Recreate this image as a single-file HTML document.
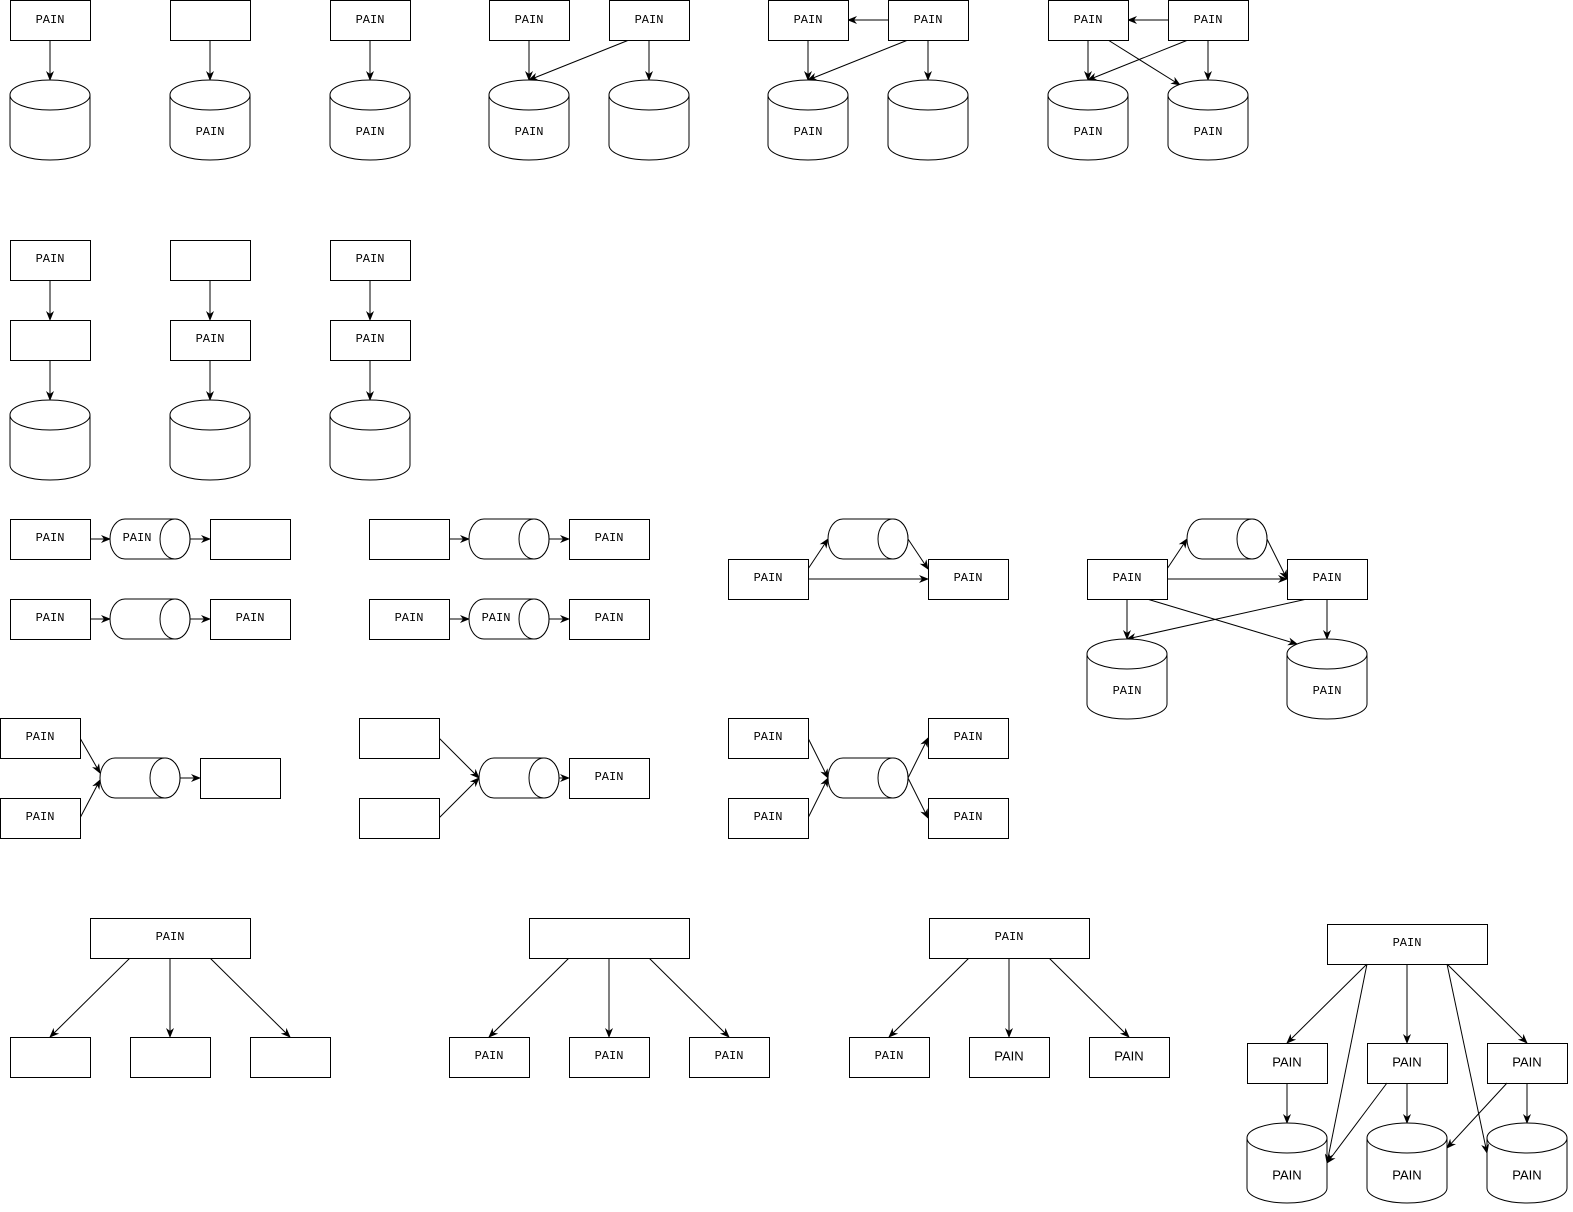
<!DOCTYPE html>
<html><head><meta charset="utf-8"><style>
body{margin:0;background:#fff}
svg text{font-family:"Liberation Mono",monospace;font-size:12px;text-anchor:middle;dominant-baseline:central}
svg text.s{font-family:"Liberation Sans",sans-serif;font-size:13px}
svg line{stroke:#000;marker-end:url(#a)}
</style></head><body>
<svg width="1573" height="1207" viewBox="0 0 1573 1207" xmlns="http://www.w3.org/2000/svg">
<defs><marker id="a" markerWidth="10" markerHeight="8" refX="9" refY="4" orient="auto" markerUnits="userSpaceOnUse"><path d="M0,0 L10,4 L0,8 L3,4 Z" fill="#000"/></marker>
<symbol id="cy" overflow="visible"><path d="M0 15 A40 15 0 0 1 80 15 V65 A40 15 0 0 1 0 65 Z M0 15 A40 15 0 0 0 80 15" fill="#fff" stroke="#000"/></symbol>
<symbol id="hc" overflow="visible"><path d="M15 0 H65 A15 20 0 0 1 65 40 H15 A15 20 0 0 1 15 0 Z" fill="#fff" stroke="#000"/><ellipse cx="65" cy="20" rx="15" ry="20" fill="#fff" stroke="#000"/></symbol>
<symbol id="bx" overflow="visible"><rect x="0.5" y="0.5" width="80" height="40" fill="#fff" stroke="#000"/></symbol>
<symbol id="wb" overflow="visible"><rect x="0.5" y="0.5" width="160" height="40" fill="#fff" stroke="#000"/></symbol>
</defs>
<line x1="50" y1="40" x2="50" y2="80"/><line x1="210" y1="40" x2="210" y2="80"/><line x1="370" y1="40" x2="370" y2="80"/>
<line x1="529" y1="40" x2="529" y2="80"/><line x1="649" y1="40" x2="649" y2="80"/><line x1="629" y1="40" x2="529" y2="80"/>
<line x1="808" y1="40" x2="808" y2="80"/><line x1="928" y1="40" x2="928" y2="80"/><line x1="888" y1="20" x2="848" y2="20"/><line x1="908" y1="40" x2="808" y2="80"/>
<line x1="1088" y1="40" x2="1088" y2="80"/><line x1="1208" y1="40" x2="1208" y2="80"/><line x1="1168" y1="20" x2="1128" y2="20"/><line x1="1188" y1="40" x2="1088" y2="80"/><line x1="1108" y1="40" x2="1180" y2="85"/>
<line x1="50" y1="280" x2="50" y2="320"/><line x1="50" y1="360" x2="50" y2="400"/><line x1="210" y1="280" x2="210" y2="320"/><line x1="210" y1="360" x2="210" y2="400"/><line x1="370" y1="280" x2="370" y2="320"/><line x1="370" y1="360" x2="370" y2="400"/>
<line x1="90" y1="539" x2="110" y2="539"/><line x1="190" y1="539" x2="210" y2="539"/><line x1="90" y1="619" x2="110" y2="619"/><line x1="190" y1="619" x2="210" y2="619"/>
<line x1="449" y1="539" x2="469" y2="539"/><line x1="549" y1="539" x2="569" y2="539"/><line x1="449" y1="619" x2="469" y2="619"/><line x1="549" y1="619" x2="569" y2="619"/>
<line x1="808" y1="569" x2="828" y2="539"/><line x1="908" y1="539" x2="928" y2="569"/><line x1="808" y1="579" x2="928" y2="579"/>
<line x1="1167" y1="569" x2="1187" y2="539"/><line x1="1267" y1="539" x2="1287" y2="579"/><line x1="1167" y1="579" x2="1287" y2="579"/><line x1="1127" y1="599" x2="1127" y2="639"/><line x1="1327" y1="599" x2="1327" y2="639"/><line x1="1307" y1="599" x2="1127" y2="639"/><line x1="1147" y1="599" x2="1297" y2="644"/>
<line x1="80" y1="738" x2="100" y2="773"/><line x1="80" y1="818" x2="100" y2="780"/><line x1="180" y1="778" x2="200" y2="778"/>
<line x1="439" y1="738" x2="479" y2="778"/><line x1="439" y1="818" x2="479" y2="778"/><line x1="559" y1="778" x2="569" y2="778"/>
<line x1="808" y1="738" x2="828" y2="778"/><line x1="808" y1="818" x2="828" y2="778"/><line x1="908" y1="778" x2="928" y2="738"/><line x1="908" y1="778" x2="928" y2="818"/>
<line x1="130" y1="958" x2="50" y2="1037"/><line x1="170" y1="958" x2="170" y2="1037"/><line x1="210" y1="958" x2="290" y2="1037"/>
<line x1="569" y1="958" x2="489" y2="1037"/><line x1="609" y1="958" x2="609" y2="1037"/><line x1="649" y1="958" x2="729" y2="1037"/>
<line x1="969" y1="958" x2="889" y2="1037"/><line x1="1009" y1="958" x2="1009" y2="1037"/><line x1="1049" y1="958" x2="1129" y2="1037"/>
<line x1="1367" y1="964" x2="1287" y2="1043"/><line x1="1407" y1="964" x2="1407" y2="1043"/><line x1="1447" y1="964" x2="1527" y2="1043"/>
<line x1="1287" y1="1083" x2="1287" y2="1123"/><line x1="1407" y1="1083" x2="1407" y2="1123"/><line x1="1527" y1="1083" x2="1527" y2="1123"/>
<!-- row1 -->
<use href="#bx" x="10" y="0"/><use href="#cy" x="10" y="80"/><text x="50" y="20">PAIN</text>
<use href="#bx" x="170" y="0"/><use href="#cy" x="170" y="80"/><text x="210" y="132">PAIN</text>
<use href="#bx" x="330" y="0"/><use href="#cy" x="330" y="80"/><text x="370" y="20">PAIN</text><text x="370" y="132">PAIN</text>
<use href="#bx" x="489" y="0"/><use href="#bx" x="609" y="0"/><use href="#cy" x="489" y="80"/><use href="#cy" x="609" y="80"/><text x="529" y="20">PAIN</text><text x="649" y="20">PAIN</text><text x="529" y="132">PAIN</text>
<use href="#bx" x="768" y="0"/><use href="#bx" x="888" y="0"/><use href="#cy" x="768" y="80"/><use href="#cy" x="888" y="80"/><text x="808" y="20">PAIN</text><text x="928" y="20">PAIN</text><text x="808" y="132">PAIN</text>
<use href="#bx" x="1048" y="0"/><use href="#bx" x="1168" y="0"/><use href="#cy" x="1048" y="80"/><use href="#cy" x="1168" y="80"/><text x="1088" y="20">PAIN</text><text x="1208" y="20">PAIN</text><text x="1088" y="132">PAIN</text><text x="1208" y="132">PAIN</text>
<!-- row2 -->
<use href="#bx" x="10" y="240"/><use href="#bx" x="10" y="320"/><use href="#cy" x="10" y="400"/><text x="50" y="259">PAIN</text>
<use href="#bx" x="170" y="240"/><use href="#bx" x="170" y="320"/><use href="#cy" x="170" y="400"/><text x="210" y="339">PAIN</text>
<use href="#bx" x="330" y="240"/><use href="#bx" x="330" y="320"/><use href="#cy" x="330" y="400"/><text x="370" y="259">PAIN</text><text x="370" y="339">PAIN</text>
<!-- row3 -->
<use href="#bx" x="10" y="519"/><use href="#hc" x="110" y="519"/><use href="#bx" x="210" y="519"/><text x="50" y="538">PAIN</text><text x="137" y="538">PAIN</text>
<use href="#bx" x="10" y="599"/><use href="#hc" x="110" y="599"/><use href="#bx" x="210" y="599"/><text x="50" y="618">PAIN</text><text x="250" y="618">PAIN</text>
<use href="#bx" x="369" y="519"/><use href="#hc" x="469" y="519"/><use href="#bx" x="569" y="519"/><text x="609" y="538">PAIN</text>
<use href="#bx" x="369" y="599"/><use href="#hc" x="469" y="599"/><use href="#bx" x="569" y="599"/><text x="409" y="618">PAIN</text><text x="496" y="618">PAIN</text><text x="609" y="618">PAIN</text>
<use href="#bx" x="728" y="559"/><use href="#hc" x="828" y="519"/><use href="#bx" x="928" y="559"/><text x="768" y="578">PAIN</text><text x="968" y="578">PAIN</text>
<use href="#bx" x="1087" y="559"/><use href="#hc" x="1187" y="519"/><use href="#bx" x="1287" y="559"/><use href="#cy" x="1087" y="639"/><use href="#cy" x="1287" y="639"/><text x="1127" y="578">PAIN</text><text x="1327" y="578">PAIN</text><text x="1127" y="691">PAIN</text><text x="1327" y="691">PAIN</text>
<!-- row4 -->
<use href="#bx" x="0" y="718"/><use href="#bx" x="0" y="798"/><use href="#hc" x="100" y="758"/><use href="#bx" x="200" y="758"/><text x="40" y="737">PAIN</text><text x="40" y="817">PAIN</text>
<use href="#bx" x="359" y="718"/><use href="#bx" x="359" y="798"/><use href="#hc" x="479" y="758"/><use href="#bx" x="569" y="758"/><text x="609" y="777">PAIN</text>
<use href="#bx" x="728" y="718"/><use href="#bx" x="728" y="798"/><use href="#hc" x="828" y="758"/><use href="#bx" x="928" y="718"/><use href="#bx" x="928" y="798"/><text x="768" y="737">PAIN</text><text x="768" y="817">PAIN</text><text x="968" y="737">PAIN</text><text x="968" y="817">PAIN</text>
<!-- row5 -->
<use href="#wb" x="90" y="918"/><text x="170" y="937">PAIN</text><use href="#bx" x="10" y="1037"/><use href="#bx" x="130" y="1037"/><use href="#bx" x="250" y="1037"/>
<use href="#wb" x="529" y="918"/><use href="#bx" x="449" y="1037"/><use href="#bx" x="569" y="1037"/><use href="#bx" x="689" y="1037"/><text x="489" y="1056">PAIN</text><text x="609" y="1056">PAIN</text><text x="729" y="1056">PAIN</text>
<use href="#wb" x="929" y="918"/><text x="1009" y="937">PAIN</text><use href="#bx" x="849" y="1037"/><use href="#bx" x="969" y="1037"/><use href="#bx" x="1089" y="1037"/><text x="889" y="1056">PAIN</text><text class="s" x="1009" y="1056">PAIN</text><text class="s" x="1129" y="1056">PAIN</text>
<use href="#wb" x="1327" y="924"/><text x="1407" y="943">PAIN</text>
<use href="#bx" x="1247" y="1043"/><use href="#bx" x="1367" y="1043"/><use href="#bx" x="1487" y="1043"/><text class="s" x="1287" y="1062">PAIN</text><text class="s" x="1407" y="1062">PAIN</text><text class="s" x="1527" y="1062">PAIN</text>
<use href="#cy" x="1247" y="1123"/><use href="#cy" x="1367" y="1123"/><use href="#cy" x="1487" y="1123"/><text class="s" x="1287" y="1175">PAIN</text><text class="s" x="1407" y="1175">PAIN</text><text class="s" x="1527" y="1175">PAIN</text>
<line x1="1367" y1="964" x2="1327" y2="1163"/><line x1="1447" y1="964" x2="1487" y2="1153"/><line x1="1387" y1="1083" x2="1327" y2="1163"/><line x1="1507" y1="1083" x2="1447" y2="1148"/>
</svg>
</body></html>
